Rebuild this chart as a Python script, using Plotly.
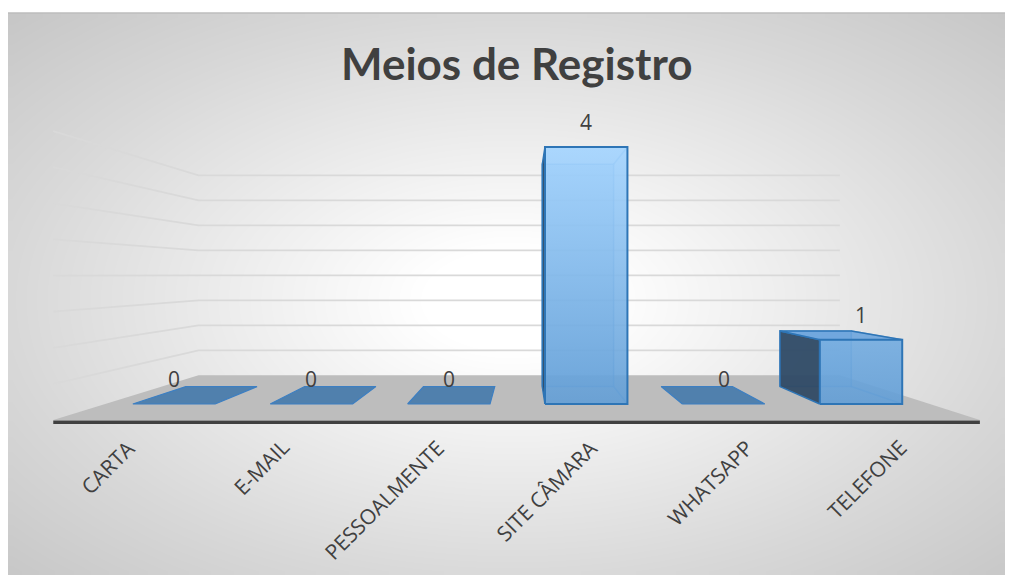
import numpy as np
import plotly.graph_objects as go

# ---------------- data ----------------
categories = ["CARTA", "E-MAIL", "PESSOALMENTE", "SITE CÂMARA", "WHATSAPP", "TELEFONE"]
values = [0, 0, 0, 4, 0, 1]
grid_values = [0.5, 1.0, 1.5, 2.0, 2.5, 3.0, 3.5, 4.0]
title_text = "Meios de Registro"

# ---------------- geometry / style ----------------
W, H = 997, 567
VP_X, VP_Y = 2.5546, 2.0078          # vanishing point (data units)
S_WALL, S_BACK, S_FRONT, S_FLOOR = 0.778, 0.865, 1.0, 1.124
HALF = 0.3
X_LO, X_HI = -0.5, len(categories) - 0.5
X_RANGE = [-1.2082, 6.0480]
Y_RANGE = [-2.6615, 6.1634]
TXT = "#404040"


def proj(x, y, s):
    return VP_X + s * (x - VP_X), VP_Y + s * (y - VP_Y)


def polygon(pts):
    xs, ys = [], []
    for p in pts:
        px, py = proj(*p)
        xs.append(px)
        ys.append(py)
    xs.append(xs[0])
    ys.append(ys[0])
    return xs, ys


fig = go.Figure()

# ---- background radial gradient (decorative) on axes x/y ----
nx, ny = 140, 80
top = 5
dx = W / nx
dy = (H - top) / ny
gx = np.array([dx / 2 + k * dx for k in range(nx)])
gy = np.array([top + dy / 2 + k * dy for k in range(ny)])
cx, cy, ax_, by_ = 504, 292, 505, 285
GX, GY = np.meshgrid(gx, gy)
D = np.sqrt(((GX - cx) / ax_) ** 2 + ((GY - cy) / by_) ** 2)
fig.add_trace(go.Heatmap(
    x=gx, y=gy, z=D, zmin=0, zmax=1.42, zsmooth="best", showscale=False,
    colorscale=[[0, "#ffffff"], [0.12, "#ffffff"], [0.7, "#d8d8d8"], [1, "#c6c6c6"]],
    hoverinfo="skip", xaxis="x", yaxis="y"))

# ---- floor ----
fx, fy = polygon([(X_LO, 0, S_WALL), (X_HI, 0, S_WALL), (X_HI, 0, S_FLOOR), (X_LO, 0, S_FLOOR)])
fig.add_trace(go.Scatter(x=fx, y=fy, mode="lines", fill="toself", fillcolor="#bdbdbd",
                         line=dict(width=0, color="#bdbdbd"), hoverinfo="skip",
                         xaxis="x2", yaxis="y2", showlegend=False))

# ---- gridlines (left wall + back wall) ----
for v in grid_values:
    pts = [proj(X_LO, v, S_FLOOR), proj(X_LO, v, S_WALL), proj(X_HI, v, S_WALL)]
    fig.add_trace(go.Scatter(x=[p[0] for p in pts], y=[p[1] for p in pts], mode="lines",
                             line=dict(color="#d9d9d9", width=1.8), hoverinfo="skip",
                             xaxis="x2", yaxis="y2", showlegend=False))

# ---- floor front edge ----
e0 = proj(X_LO, -0.03, S_FLOOR)
e1 = proj(X_HI, -0.03, S_FLOOR)
fig.add_trace(go.Scatter(x=[e0[0], e1[0]], y=[e0[1], e1[1]], mode="lines",
                         line=dict(color="#404040", width=3.5), hoverinfo="skip",
                         xaxis="x2", yaxis="y2", showlegend=False))

# ---- bars ----
ymax = max(values)
for i, v in enumerate(values):
    l, r = i - HALF, i + HALF
    if v == 0:
        tx, ty = polygon([(l, 0, S_FRONT), (r, 0, S_FRONT), (r, 0, S_BACK), (l, 0, S_BACK)])
        fig.add_trace(go.Scatter(x=tx, y=ty, mode="lines", fill="toself", fillcolor="#5080ad",
                                 line=dict(color="#3d7fc2", width=1.2), hoverinfo="skip",
                                 xaxis="x2", yaxis="y2", showlegend=False))
        continue
    # back face
    bx, by = polygon([(l, 0, S_BACK), (r, 0, S_BACK), (r, v, S_BACK), (l, v, S_BACK)])
    fig.add_trace(go.Scatter(x=bx, y=by, mode="lines", fill="toself",
                             fillcolor="rgba(110,170,225,0.35)",
                             line=dict(color="rgba(60,130,200,0.55)", width=1.5), hoverinfo="skip",
                             xaxis="x2", yaxis="y2", showlegend=False))
    # hidden connecting edges (right side)
    for yy in (0, v):
        a = proj(r, yy, S_FRONT)
        b = proj(r, yy, S_BACK)
        fig.add_trace(go.Scatter(x=[a[0], b[0]], y=[a[1], b[1]], mode="lines",
                                 line=dict(color="rgba(60,130,200,0.55)", width=1.5),
                                 hoverinfo="skip", xaxis="x2", yaxis="y2", showlegend=False))
    # left side face
    sx, sy = polygon([(l, 0, S_FRONT), (l, v, S_FRONT), (l, v, S_BACK), (l, 0, S_BACK)])
    fig.add_trace(go.Scatter(x=sx, y=sy, mode="lines", fill="toself",
                             fillcolor="rgba(45,70,98,0.92)",
                             line=dict(color="#2e75b6", width=1.5), hoverinfo="skip",
                             xaxis="x2", yaxis="y2", showlegend=False))
    # top face
    if v < VP_Y:
        tx, ty = polygon([(l, v, S_FRONT), (r, v, S_FRONT), (r, v, S_BACK), (l, v, S_BACK)])
        fig.add_trace(go.Scatter(x=tx, y=ty, mode="lines", fill="toself",
                                 fillcolor="rgba(100,160,220,0.85)",
                                 line=dict(color="#2e75b6", width=1.5), hoverinfo="skip",
                                 xaxis="x2", yaxis="y2", showlegend=False))
    # front face
    qx, qy = polygon([(l, 0, S_FRONT), (r, 0, S_FRONT), (r, v, S_FRONT), (l, v, S_FRONT)])
    fig.add_trace(go.Scatter(x=qx, y=qy, mode="lines", fill="toself",
                             fillgradient=dict(type="vertical", start=0, stop=ymax,
                                               colorscale=[[0, "rgba(98,158,214,0.9)"],
                                                           [1, "rgba(163,212,255,0.9)"]]),
                             line=dict(color="#2e75b6", width=2), hoverinfo="skip",
                             xaxis="x2", yaxis="y2", showlegend=False))

# ---- annotations: data labels and category labels ----
annotations = []
for i, v in enumerate(values):
    annotations.append(dict(x=i, y=v, xref="x2", yref="y2", text=str(v), showarrow=False,
                            xanchor="center", yanchor="middle", yshift=25,
                            font=dict(family="Open Sans", size=21, color=TXT)))
for i, c in enumerate(categories):
    px, py = proj(i, 0, S_FLOOR)
    annotations.append(dict(x=px, y=py, xref="x2", yref="y2", text=c, showarrow=False,
                            textangle=-45, xanchor="right", yanchor="top",
                            xshift=13, yshift=-11,
                            font=dict(family="Open Sans", size=21, color=TXT)))
annotations.append(dict(x=508.5 / W, y=1 - 55 / H, xref="paper", yref="paper",
                        text="<b>" + title_text + "</b>", showarrow=False,
                        xanchor="center", yanchor="middle",
                        font=dict(family="Lato", size=44, color=TXT)))

fig.update_layout(
    width=W, height=H,
    margin=dict(l=0, r=0, t=0, b=0),
    paper_bgcolor="white", plot_bgcolor="rgba(0,0,0,0)",
    showlegend=False,
    xaxis=dict(range=[0, W], domain=[0, 1], visible=False, fixedrange=True),
    yaxis=dict(range=[H, 0], domain=[0, 1], visible=False, fixedrange=True),
    xaxis2=dict(range=X_RANGE, domain=[0, 1], visible=False, fixedrange=True, overlaying="x"),
    yaxis2=dict(range=Y_RANGE, domain=[0, 1], visible=False, fixedrange=True, overlaying="y"),
    annotations=annotations,
    shapes=[dict(type="line", xref="paper", yref="paper", x0=0, x1=1,
                 y0=1 - 5 / H, y1=1 - 5 / H, line=dict(color="#bdbdbd", width=1.5))],
)

fig.write_html("out.html")
